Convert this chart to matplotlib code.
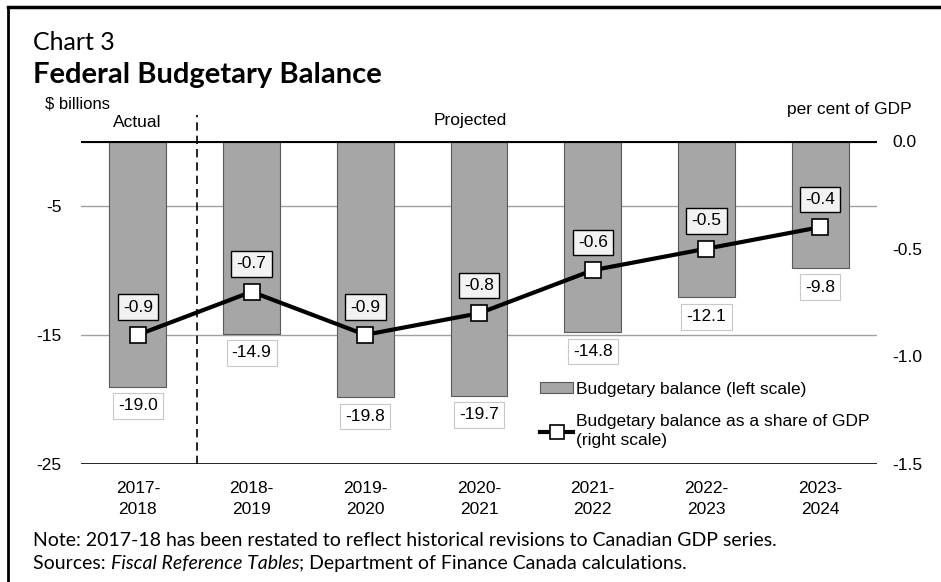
import matplotlib.pyplot as plt
from matplotlib.lines import Line2D

# Data
years = ['2017-\n2018', '2018-\n2019', '2019-\n2020', '2020-\n2021',
         '2021-\n2022', '2022-\n2023', '2023-\n2024']
balance = [-19.0, -14.9, -19.8, -19.7, -14.8, -12.1, -9.8]
share_gdp = [-0.9, -0.7, -0.9, -0.8, -0.6, -0.5, -0.4]

plt.rcParams['font.family'] = ['Liberation Sans', 'DejaVu Sans']
title_font = ['Lato', 'DejaVu Sans']
fs = 12.5

fig = plt.figure(figsize=(9.41, 5.82), dpi=100)
ax = fig.add_axes([0.0861, 0.2027, 0.8459, 0.555])
ax2 = ax.twinx()

x = list(range(len(years)))

# bars (left scale)
ax.set_ylim(-25, 0)
ax.set_xlim(-0.5, 6.5)
ax.set_yticks([-5, -15, -25])
ax.set_yticklabels(['-5', '-15', '-25'], fontsize=fs)
for y in [-5, -15]:
    ax.axhline(y, color='#a0a0a0', lw=1, zorder=0)
ax.axhline(-25, color='black', lw=1.2, zorder=1)
bars = ax.bar(x, balance, width=0.5, color='#a6a6a6', edgecolor='#595959',
              lw=0.8, zorder=2)
ax.axhline(0, color='black', lw=3, zorder=5)
for xi, v in zip(x, balance):
    ax.annotate(f'{v:.1f}', (xi, v), xytext=(0, -14), textcoords='offset points',
                ha='center', va='center', fontsize=fs,
                bbox=dict(boxstyle='square,pad=0.3', fc='white', ec='#c8c8c8', lw=0.8))

ax.set_xticks(x)
ax.set_xticklabels(years, fontsize=fs, linespacing=1.5)
ax.tick_params(length=0, pad=12)
ax.tick_params(axis='y', pad=14)
for s in ax.spines.values():
    s.set_visible(False)

# dashed actual/projected divider
ax.axvline(0.52, ymin=0, ymax=1.08, color='black', lw=1.2, ls=(0, (5, 3)),
           clip_on=False, zorder=6)

# line (right scale)
ax2.set_ylim(-1.5, 0)
ax2.set_yticks([0, -0.5, -1.0, -1.5])
ax2.set_yticklabels(['0.0', '-0.5', '-1.0', '-1.5'], fontsize=fs)
ax2.tick_params(length=0, pad=11)
for s in ax2.spines.values():
    s.set_visible(False)
ax2.plot(x, share_gdp, color='black', lw=3, marker='s', ms=11,
         mfc='white', mec='black', mew=1.2, zorder=6)
for xi, v in zip(x, share_gdp):
    ax2.annotate(f'{v:.1f}', (xi, v), xytext=(0, 20), textcoords='offset points',
                 ha='center', va='center', fontsize=fs,
                 bbox=dict(boxstyle='square,pad=0.3', fc='#f2f2f2', ec='black', lw=1))

# legend
handles = [bars, Line2D([], [], color='black', lw=3, marker='s', ms=10,
                        mfc='white', mec='black', mew=1.2)]
labels = ['Budgetary balance (left scale)',
          'Budgetary balance as a share of GDP\n(right scale)']
leg = fig.legend(handles, labels, loc='upper left', bbox_to_anchor=(0.567, 0.356),
                 frameon=False, fontsize=fs, handlelength=1.9, handleheight=0.55,
                 handletextpad=0.15, labelspacing=1.0, borderaxespad=0)
for t in leg.get_texts():
    t.set_linespacing(1.35)

# titles and labels
fig.text(0.035, 0.914, 'Chart 3', fontsize=18, family=title_font, va='baseline')
fig.text(0.035, 0.858, 'Federal Budgetary Balance', fontsize=21, weight='bold',
         family=title_font, va='baseline')
fig.text(0.048, 0.822, '$ billions', fontsize=12, va='center')
fig.text(0.146, 0.789, 'Actual', fontsize=fs, ha='center', va='center')
fig.text(0.5, 0.793, 'Projected', fontsize=fs, ha='center', va='center')
fig.text(0.969, 0.811, 'per cent of GDP', fontsize=fs, ha='right', va='center')

nfs = 14
yn, ys = 0.071, 0.032
fig.text(0.035, yn, 'Note: 2017-18 has been restated to reflect historical '
         'revisions to Canadian GDP series.', fontsize=nfs, family=title_font,
         va='center')
st = fig.text(0.035, ys, 'Sources: ', fontsize=nfs, family=title_font, va='center')
fig.canvas.draw()
r = fig.canvas.get_renderer()
x1 = st.get_window_extent(r).x1 / fig.bbox.width
it = fig.text(x1, ys, 'Fiscal Reference Tables', fontsize=nfs, style='italic',
              family=title_font, va='center')
x2 = it.get_window_extent(r).x1 / fig.bbox.width
fig.text(x2, ys, '; Department of Finance Canada calculations.', fontsize=nfs,
         family=title_font, va='center')

# border
fig.add_artist(Line2D([0.0085, 0.0085], [0, 0.988], color='black', lw=2,
                      transform=fig.transFigure))
fig.add_artist(Line2D([0.0085, 1.0], [0.988, 0.988], color='black', lw=2.5,
                      transform=fig.transFigure))

fig.savefig('out.png', dpi=100)
